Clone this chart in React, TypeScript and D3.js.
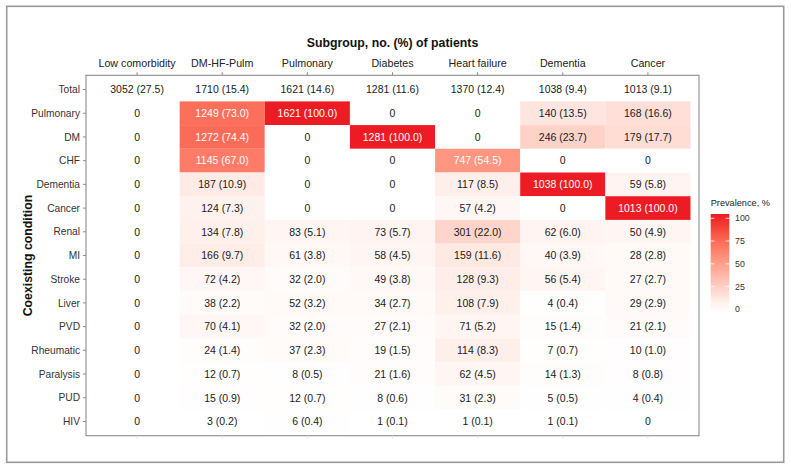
import React, { useEffect, useRef } from "react";
import * as d3 from "d3";

const subgroups = [
  "Low comorbidity",
  "DM-HF-Pulm",
  "Pulmonary",
  "Diabetes",
  "Heart failure",
  "Dementia",
  "Cancer",
];

const conditions = [
  "Total",
  "Pulmonary",
  "DM",
  "CHF",
  "Dementia",
  "Cancer",
  "Renal",
  "MI",
  "Stroke",
  "Liver",
  "PVD",
  "Rheumatic",
  "Paralysis",
  "PUD",
  "HIV",
];

const totalCounts = [3052, 1710, 1621, 1281, 1370, 1038, 1013];
const totalPct = [27.5, 15.4, 14.6, 11.6, 12.4, 9.4, 9.1];

// counts per subgroup, rows follow conditions (without Total)
const lowCounts = [0, 0, 0, 0, 0, 0, 0, 0, 0, 0, 0, 0, 0, 0];
const lowPct = [0, 0, 0, 0, 0, 0, 0, 0, 0, 0, 0, 0, 0, 0];
const dmhfCounts = [1249, 1272, 1145, 187, 124, 134, 166, 72, 38, 70, 24, 12, 15, 3];
const dmhfPct = [73.0, 74.4, 67.0, 10.9, 7.3, 7.8, 9.7, 4.2, 2.2, 4.1, 1.4, 0.7, 0.9, 0.2];
const pulmCounts = [1621, 0, 0, 0, 0, 83, 61, 32, 52, 32, 37, 8, 12, 6];
const pulmPct = [100.0, 0, 0, 0, 0, 5.1, 3.8, 2.0, 3.2, 2.0, 2.3, 0.5, 0.7, 0.4];
const diabCounts = [0, 1281, 0, 0, 0, 73, 58, 49, 34, 27, 19, 21, 8, 1];
const diabPct = [0, 100.0, 0, 0, 0, 5.7, 4.5, 3.8, 2.7, 2.1, 1.5, 1.6, 0.6, 0.1];
const hfCounts = [0, 0, 747, 117, 57, 301, 159, 128, 108, 71, 114, 62, 31, 1];
const hfPct = [0, 0, 54.5, 8.5, 4.2, 22.0, 11.6, 9.3, 7.9, 5.2, 8.3, 4.5, 2.3, 0.1];
const demCounts = [140, 246, 0, 1038, 0, 62, 40, 56, 4, 15, 7, 14, 5, 1];
const demPct = [13.5, 23.7, 0, 100.0, 0, 6.0, 3.9, 5.4, 0.4, 1.4, 0.7, 1.3, 0.5, 0.1];
const canCounts = [168, 179, 0, 59, 1013, 50, 28, 27, 29, 21, 10, 8, 4, 0];
const canPct = [16.6, 17.7, 0, 5.8, 100.0, 4.9, 2.8, 2.7, 2.9, 2.1, 1.0, 0.8, 0.4, 0];

const legendBreaks = [0, 25, 50, 75, 100];

const countsBySubgroup = [lowCounts, dmhfCounts, pulmCounts, diabCounts, hfCounts, demCounts, canCounts];
const pctBySubgroup = [lowPct, dmhfPct, pulmPct, diabPct, hfPct, demPct, canPct];

type Cell = { col: string; row: string; n: number; p: number; total: boolean };

const App = () => {
  const ref = useRef<SVGSVGElement>(null);

  useEffect(() => {
    const W = 791;
    const H = 470;
    const svg = d3.select(ref.current).attr("width", W).attr("height", H);
    svg.selectAll("*").remove();

    const font = "'Liberation Sans', Arial, Helvetica, sans-serif";
    const panel = { left: 86, right: 699, top: 75.3, bottom: 435.7 };

    svg
      .append("rect")
      .attr("x", 6.7)
      .attr("y", 6.3)
      .attr("width", 777)
      .attr("height", 456)
      .attr("fill", "white")
      .attr("stroke", "#9a9a9a")
      .attr("stroke-width", 1.6);

    const x = d3.scalePoint().domain(subgroups).range([panel.left, panel.right]).padding(0.6);
    const y = d3.scalePoint().domain(conditions).range([panel.top, panel.bottom]).padding(0.6);
    const cw = x.step();
    const ch = y.step();

    const color = d3
      .scaleLinear<string>()
      .domain([0, 100])
      .range(["#ffffff", "#ED1C24"])
      .interpolate(d3.interpolateLab);

    const cells: Cell[] = [];
    subgroups.forEach((s, i) => {
      cells.push({ col: s, row: "Total", n: totalCounts[i], p: totalPct[i], total: true });
      conditions.slice(1).forEach((c, j) => {
        cells.push({ col: s, row: c, n: countsBySubgroup[i][j], p: pctBySubgroup[i][j], total: false });
      });
    });

    const chart = svg.append("g");

    chart
      .selectAll("rect.tile")
      .data(cells.filter((d) => !d.total))
      .enter()
      .append("rect")
      .attr("class", "tile")
      .attr("x", (d) => x(d.col)! - cw / 2)
      .attr("y", (d) => y(d.row)! - ch / 2)
      .attr("width", cw)
      .attr("height", ch)
      .attr("fill", (d) => color(d.p));

    chart
      .selectAll("text.lab")
      .data(cells)
      .enter()
      .append("text")
      .attr("class", "lab")
      .attr("x", (d) => x(d.col)!)
      .attr("y", (d) => y(d.row)!)
      .attr("dy", "0.36em")
      .attr("text-anchor", "middle")
      .style("font-family", font)
      .style("font-size", "10.5px")
      .attr("fill", (d) => (!d.total && d.p > 50 ? "white" : "#1a1a1a"))
      .text((d) => (d.n === 0 && !d.total ? "0" : `${d.n} (${d.p.toFixed(1)})`));

    // panel border
    svg
      .append("rect")
      .attr("x", panel.left)
      .attr("y", panel.top)
      .attr("width", panel.right - panel.left)
      .attr("height", panel.bottom - panel.top)
      .attr("fill", "none")
      .attr("stroke", "#8c8c8c")
      .attr("stroke-width", 1.1);

    // top axis
    const top = svg.append("g");
    subgroups.forEach((s) => {
      top
        .append("line")
        .attr("x1", x(s)!)
        .attr("x2", x(s)!)
        .attr("y1", panel.top)
        .attr("y2", panel.top - 3)
        .attr("stroke", "#8c8c8c");
      top
        .append("text")
        .attr("x", x(s)!)
        .attr("y", 67)
        .attr("text-anchor", "middle")
        .style("font-family", font)
        .style("font-size", "10.7px")
        .attr("fill", "#222")
        .text(s);
      svg
        .append("line")
        .attr("x1", x(s)!)
        .attr("x2", x(s)!)
        .attr("y1", panel.bottom)
        .attr("y2", panel.bottom + 3)
        .attr("stroke", "#e4e4e4");
    });

    // left axis
    conditions.forEach((c) => {
      svg
        .append("line")
        .attr("x1", panel.left)
        .attr("x2", panel.left - 3)
        .attr("y1", y(c)!)
        .attr("y2", y(c)!)
        .attr("stroke", "#8c8c8c");
      svg
        .append("text")
        .attr("x", panel.left - 6)
        .attr("y", y(c)!)
        .attr("dy", "0.36em")
        .attr("text-anchor", "end")
        .style("font-family", font)
        .style("font-size", "10.2px")
        .attr("fill", "#333")
        .text(c);
    });

    svg
      .append("text")
      .attr("x", (panel.left + panel.right) / 2)
      .attr("y", 47)
      .attr("text-anchor", "middle")
      .style("font-family", font)
      .style("font-size", "12.3px")
      .style("font-weight", "bold")
      .attr("fill", "#111")
      .text("Subgroup, no. (%) of patients");

    svg
      .append("text")
      .attr("transform", `translate(32, ${(panel.top + panel.bottom) / 2}) rotate(-90)`)
      .attr("text-anchor", "middle")
      .style("font-family", font)
      .style("font-size", "12.3px")
      .style("font-weight", "bold")
      .attr("fill", "#111")
      .text("Coexisting condition");

    // legend
    const lg = svg.append("g");
    lg.append("text")
      .attr("x", 710.7)
      .attr("y", 206)
      .style("font-family", font)
      .style("font-size", "9.2px")
      .attr("fill", "#222")
      .text("Prevalence, %");

    const barX = 710.7;
    const barW = 18.6;
    const barTop = 214;
    const barBot = 313.5;
    const ly = d3.scaleLinear().domain([0, 100]).range([309.3, 218.3]);

    const grad = svg
      .append("defs")
      .append("linearGradient")
      .attr("id", "prevGrad")
      .attr("x1", 0)
      .attr("x2", 0)
      .attr("y1", 1)
      .attr("y2", 0);
    d3.range(0, 11).forEach((k) => {
      const v = ly.invert(barBot + (barTop - barBot) * (k / 10));
      grad
        .append("stop")
        .attr("offset", `${k * 10}%`)
        .attr("stop-color", color(Math.max(0, Math.min(100, v))));
    });

    lg.append("rect")
      .attr("x", barX)
      .attr("y", barTop)
      .attr("width", barW)
      .attr("height", barBot - barTop)
      .attr("fill", "url(#prevGrad)");

    legendBreaks.forEach((b) => {
      [barX, barX + barW - 3.7].forEach((x0) => {
        lg.append("line")
          .attr("x1", x0)
          .attr("x2", x0 + 3.7)
          .attr("y1", ly(b))
          .attr("y2", ly(b))
          .attr("stroke", "white")
          .attr("stroke-width", 0.8);
      });
      lg.append("text")
        .attr("x", 735)
        .attr("y", ly(b))
        .attr("dy", "0.36em")
        .style("font-family", font)
        .style("font-size", "8.8px")
        .attr("fill", "#333")
        .text(b);
    });
  }, []);

  return <svg ref={ref} style={{ position: "absolute", left: 0, top: 0, display: "block" }} />;
};

export default App;
